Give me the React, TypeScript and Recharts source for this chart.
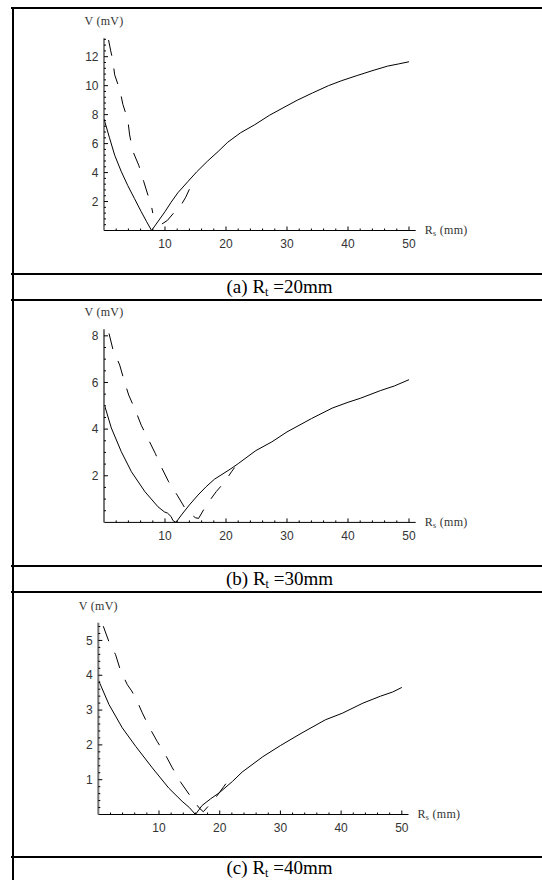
import React from 'react';
import { LineChart, Line, XAxis, YAxis } from 'recharts';

type Pt = { x: number; y: number | null };

const pts = (rows: (number | null)[][]): Pt[] => rows.map(([x, y]) => ({ x: x as number, y }));

// (a) Rt = 20mm
const solidA = pts([
  [0, 7.7], [0.9, 6.4], [1.75, 5.2], [2.8, 4.1], [3.9, 3.1], [5.0, 2.2], [6.1, 1.3], [7.0, 0.6], [7.8, 0],
  [8.9, 0.65], [10.0, 1.3], [11.0, 1.95], [12.1, 2.6], [13.8, 3.4], [15.2, 4.05], [17.0, 4.8], [18.7, 5.45],
  [20.3, 6.1], [22.4, 6.75], [24.7, 7.3], [27.1, 7.95], [29.5, 8.5], [31.7, 9.0], [34.2, 9.5], [36.8, 10.0],
  [39.0, 10.35], [41.5, 10.7], [44.1, 11.05], [46.5, 11.35], [48.3, 11.5], [50, 11.65],
]);
const dashedA = pts([
  [0.75, 13.15], [1.1, 12.4], [1.4, 11.85], [1.75, 10.75], [2.6, 9.7], [3.1, 8.7], [3.9, 7.65], [4.2, 6.6],
  [4.75, 5.45], [5.7, 4.5], [6.5, 3.4], [7.2, 2.45], [7.7, 1.85], [8.0, 1.2], [8.7, null],
  [9.5, 0.45], [10.4, 0.7], [11.3, 1.15], [12.0, 1.45], [12.7, 1.8], [13.4, 2.3], [14.0, 2.85],
]);
const yLabelsA = [2, 4, 6, 8, 10, 12];

// (b) Rt = 30mm
const solidB = pts([
  [0, 5.1], [1.2, 4.05], [2.84, 3.03], [4.5, 2.17], [6.7, 1.32], [8.85, 0.67], [9.9, 0.45], [10.4, 0.4],
  [11.0, 0.25], [11.3, 0.08], [11.8, 0], [12.7, 0.32], [14.0, 0.75], [15.4, 1.17], [16.7, 1.52], [18.1, 1.85],
  [20.8, 2.3], [22.0, 2.52], [24.9, 3.08], [27.5, 3.45], [30.0, 3.88], [34.0, 4.45], [37.4, 4.9], [40.0, 5.15],
  [42.0, 5.32], [45.3, 5.65], [47.6, 5.85], [50, 6.12],
]);
const dashedB = pts([
  [0.82, 8.1], [1.48, 7.4], [2.57, 6.75], [3.28, 6.1], [4.05, 5.46], [5.13, 4.82], [6.1, 4.17], [7.2, 3.6],
  [8.4, 2.96], [9.5, 2.32], [10.6, 1.74], [12.0, 1.17], [13.3, 0.6], [14.2, 0.35], [15.0, 0.2], [15.5, 0.17],
  [16.8, 0.75], [18.4, 1.32], [19.8, 1.74], [20.9, 2.17], [21.4, 2.35],
]);
const yLabelsB = [2, 4, 6, 8];

// (c) Rt = 40mm
const solidC = pts([
  [0, 3.87], [1.76, 3.16], [3.95, 2.49], [6.15, 1.96], [8.9, 1.34], [11.6, 0.76], [13.8, 0.38], [15.0, 0.2],
  [16.0, 0], [17.1, 0.26], [18.5, 0.45], [19.9, 0.62], [22.1, 0.95], [23.7, 1.22], [27.1, 1.66], [30.0, 1.98],
  [33.4, 2.33], [37.4, 2.72], [40.2, 2.91], [43.6, 3.2], [46.5, 3.4], [48.5, 3.52], [50, 3.65],
]);
const dashedC = pts([
  [0.82, 5.41], [1.76, 4.96], [2.85, 4.59], [3.67, 4.13], [4.78, 3.73], [5.5, 3.55], [6.15, 3.35], [7.25, 2.92],
  [8.45, 2.49], [9.7, 2.1], [11.1, 1.7], [12.2, 1.34], [13.56, 0.93], [15.0, 0.57], [16.6, 0.19], [17.3, 0.08],
  [19.1, 0.43], [20.7, 0.81], [21.3, 0.95],
]);
const yLabelsC = [1, 2, 3, 4, 5];

const xLabels = [10, 20, 30, 40, 50];
const captionTags = ['(a)', '(b)', '(c)'];
const rtValues = [20, 30, 40];

// minor tick positions along an axis
const ticksEvery = (step: number, max: number) => {
  const out: number[] = [];
  for (let v = step; v <= max + 1e-9; v += step) out.push(Math.round(v * 1000) / 1000);
  return out;
};

const xTicks = ticksEvery(2, 50);

// axes get 1px of room (recharts skips axes of zero size), margins account for it
const panels = [
  {
    top: 0, margin: { top: 38.3, bottom: 48.5, left: 103, right: 126.3 }, xMax: 51.1, yMax: 13.27,
    solid: solidA, dashed: dashedA, yLabels: yLabelsA, yTicks: ticksEvery(0.4, 13.2), axisColor: '#333', axisWidth: 1.2,
  },
  {
    top: 292, margin: { top: 37.3, bottom: 48.6, left: 103, right: 126.3 }, xMax: 51.1, yMax: 8.28,
    solid: solidB, dashed: dashedB, yLabels: yLabelsB, yTicks: ticksEvery(0.5, 8), axisColor: '#777', axisWidth: 2,
  },
  {
    top: 584, margin: { top: 38.7, bottom: 48.5, left: 97.3, right: 133.5 }, xMax: 51.1, yMax: 5.51,
    solid: solidC, dashed: dashedC, yLabels: yLabelsC, yTicks: ticksEvery(0.2, 5.4), axisColor: '#777', axisWidth: 2,
  },
];

const tickFont = { fontFamily: 'Liberation Sans, Arial, sans-serif', fontSize: 12, fill: '#333' };
const titleFont = { fontFamily: 'Liberation Serif, Times New Roman, serif', fontSize: 12, fill: '#333' };

const XTick = (p: any) => {
  const v = p.payload.value;
  const major = xLabels.includes(v);
  return (
    <g>
      <line x1={p.x} y1={p.y} x2={p.x} y2={p.y - (major ? 4 : 2)} stroke="#000" strokeWidth={1} />
      {major && (
        <text x={p.x} y={p.y + 17.8} textAnchor="middle" {...tickFont}>{v}</text>
      )}
    </g>
  );
};

const YTick = (p: any, labels: number[]) => {
  const v = p.payload.value;
  const major = labels.some((l) => Math.abs(l - v) < 1e-6);
  return (
    <g>
      <line x1={p.x} y1={p.y} x2={p.x + (major ? 4 : 2)} y2={p.y} stroke="#000" strokeWidth={1} />
      {major && (
        <text x={p.x - 5.5} y={p.y + 4.2} textAnchor="end" {...tickFont}>{v}</text>
      )}
    </g>
  );
};

const XTitle = (p: any) => {
  const vb = p.viewBox || {};
  return (
    <text x={vb.x + vb.width + 9} y={vb.y + 3.5} letterSpacing={0.3} {...titleFont}>
      R<tspan fontSize={8} dy={2}>s</tspan><tspan dy={-2}> (mm)</tspan>
    </text>
  );
};

const YTitle = (p: any) => {
  const vb = p.viewBox || {};
  return (
    <text x={vb.x + vb.width} y={vb.y - 13} textAnchor="middle" letterSpacing={0.3} {...titleFont}>V (mV)</text>
  );
};

const Panel = ({ cfg }: { cfg: (typeof panels)[number] }) => (
  <div style={{ position: 'absolute', left: 0, top: cfg.top }}>
    <LineChart width={542} height={280} margin={cfg.margin}>
      <XAxis
        type="number"
        dataKey="x"
        domain={[0, cfg.xMax]}
        allowDataOverflow
        ticks={xTicks}
        interval={0}
        height={1}
        tickSize={0}
        tickMargin={0}
        tickLine={false}
        axisLine={{ stroke: '#000', strokeWidth: 1 }}
        tick={(p: any) => <XTick {...p} />}
        label={(p: any) => <XTitle {...p} />}
      />
      <YAxis
        type="number"
        domain={[0, cfg.yMax]}
        allowDataOverflow
        ticks={cfg.yTicks}
        interval={0}
        width={1}
        tickSize={0}
        tickMargin={0}
        tickLine={false}
        axisLine={{ stroke: cfg.axisColor, strokeWidth: cfg.axisWidth }}
        tick={(p: any) => YTick(p, cfg.yLabels)}
        label={(p: any) => <YTitle {...p} />}
      />
      <Line data={cfg.solid} dataKey="y" type="linear" stroke="#000" strokeWidth={1} dot={false} isAnimationActive={false} />
      <Line data={cfg.dashed} dataKey="y" type="linear" stroke="#000" strokeWidth={1} strokeDasharray="16 13" dot={false} isAnimationActive={false} />
    </LineChart>
  </div>
);

const hLines = [7, 273, 299, 565, 591, 856];
const captionTops = [277, 569, 858];

export default function App() {
  return (
    <div style={{ position: 'absolute', left: 0, top: 0, width: 542, height: 880, background: '#fff', overflow: 'hidden' }}>
      {panels.map((cfg, i) => <Panel key={i} cfg={cfg} />)}
      <div style={{ position: 'absolute', left: 12, top: 7, width: 2, height: 873, background: '#000' }} />
      {hLines.map((t) => (
        <div key={t} style={{ position: 'absolute', left: 11, top: t, width: 531, height: 2, background: '#000' }} />
      ))}
      {captionTags.map((tag, i) => (
        <div
          key={tag}
          style={{
            position: 'absolute', left: 12, width: 535, top: captionTops[i], height: 20, lineHeight: '20px',
            textAlign: 'center', fontFamily: 'Liberation Serif, Times New Roman, serif', fontSize: 19, color: '#000',
          }}
        >
          {tag} R<span style={{ fontSize: 12, position: 'relative', top: 3 }}>t</span> ={rtValues[i]}mm
        </div>
      ))}
    </div>
  );
}
